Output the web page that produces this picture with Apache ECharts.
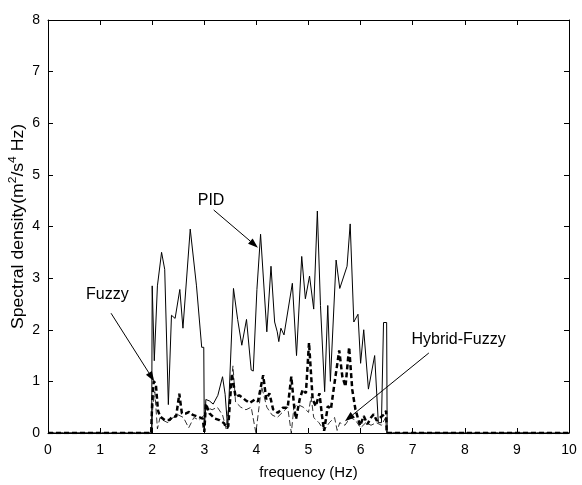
<!DOCTYPE html>
<html>
<head>
<meta charset="utf-8">
<script src="https://cdn.jsdelivr.net/npm/echarts@6/dist/echarts.min.js"></script>
<style>
  html, body { margin: 0; padding: 0; background: #fff; }
  #chart { width: 582px; height: 485px; }
</style>
</head>
<body>
<div id="chart"></div>
<script>
// Acceleration spectral density for three controllers
const xTicks = [0, 1, 2, 3, 4, 5, 6, 7, 8, 9, 10];
const yTicks = [0, 1, 2, 3, 4, 5, 6, 7, 8];

const pidFreq = [0, 1.99, 2.0, 2.04, 2.1, 2.18, 2.24, 2.31, 2.37, 2.44, 2.53, 2.59, 2.73, 2.85, 2.95, 2.99, 3.0, 3.03, 3.1, 3.17, 3.26, 3.35, 3.4, 3.45, 3.56, 3.64, 3.72, 3.81, 3.9, 3.94, 4.01, 4.08, 4.2, 4.28, 4.35, 4.4, 4.43, 4.47, 4.53, 4.69, 4.77, 4.87, 4.94, 5.02, 5.1, 5.17, 5.23, 5.31, 5.37, 5.42, 5.53, 5.6, 5.74, 5.8, 5.87, 5.95, 6.0, 6.06, 6.15, 6.27, 6.34, 6.4, 6.44, 6.5, 6.51, 10];
const pidPsd  = [0, 0, 2.85, 1.4, 2.85, 3.5, 3.17, 0.55, 2.28, 2.22, 2.78, 2.03, 3.95, 2.85, 1.66, 1.66, 0.02, 0.65, 0.62, 0.56, 0.73, 1.09, 0.75, 0.08, 2.8, 2.2, 1.7, 2.2, 1.22, 1.2, 2.78, 3.85, 1.96, 3.23, 2.15, 1.96, 1.77, 2.03, 1.9, 2.9, 1.5, 3.42, 2.6, 3.04, 2.4, 4.3, 2.47, 0.8, 2.47, 1.0, 3.35, 2.8, 3.23, 4.05, 2.15, 2.3, 1.35, 2.0, 0.85, 1.5, 0.2, 0.2, 2.14, 2.14, 0, 0];

const fuzzyFreq = [0, 1.98, 2.0, 2.03, 2.07, 2.11, 2.15, 2.24, 2.33, 2.39, 2.46, 2.52, 2.57, 2.65, 2.71, 2.78, 2.87, 2.97, 3.0, 3.03, 3.1, 3.2, 3.29, 3.38, 3.42, 3.46, 3.53, 3.6, 3.67, 3.8, 3.87, 3.97, 4.03, 4.13, 4.19, 4.25, 4.32, 4.41, 4.51, 4.6, 4.67, 4.73, 4.76, 4.83, 4.89, 4.95, 5.01, 5.08, 5.14, 5.21, 5.26, 5.3, 5.37, 5.43, 5.49, 5.59, 5.65, 5.71, 5.78, 5.84, 5.9, 5.99, 6.06, 6.13, 6.2, 6.25, 6.31, 6.38, 6.45, 6.49, 6.5, 10];
const fuzzyPsd  = [0, 0, 0.6, 1.0, 0.95, 0.44, 0.32, 0.25, 0.25, 0.32, 0.32, 0.76, 0.38, 0.38, 0.41, 0.35, 0.32, 0.28, 0.02, 0.57, 0.38, 0.28, 0.25, 0.19, 0.1, 0.13, 1.15, 0.7, 0.73, 0.63, 0.58, 0.65, 0.61, 1.12, 0.65, 0.77, 0.46, 0.39, 0.49, 0.49, 1.09, 0.46, 0.27, 0.65, 0.84, 0.77, 1.75, 0.65, 0.52, 0.77, 0.33, 0.04, 0.52, 0.46, 0.9, 1.6, 1.09, 0.9, 1.66, 0.84, 0.46, 0.14, 0.33, 0.17, 0.3, 0.36, 0.24, 0.3, 0.36, 0.43, 0, 0];

const hybridFreq = [0, 1.99, 2.01, 2.05, 2.1, 2.15, 2.2, 2.3, 2.4, 2.5, 2.6, 2.7, 2.8, 2.9, 3.0, 3.05, 3.15, 3.25, 3.35, 3.42, 3.55, 3.6, 3.7, 3.8, 3.9, 3.99, 4.05, 4.1, 4.2, 4.3, 4.4, 4.5, 4.6, 4.67, 4.72, 4.8, 4.9, 5.0, 5.05, 5.1, 5.2, 5.3, 5.4, 5.5, 5.55, 5.6, 5.7, 5.8, 5.9, 6.0, 6.1, 6.2, 6.3, 6.4, 6.48, 6.5, 10];
const hybridPsd  = [0, 0, 0.5, 0.8, 0.08, 0.3, 0.25, 0.2, 0.3, 0.35, 0.3, 0.1, 0.3, 0.25, 0.35, 0.5, 0.45, 0.5, 0.35, 0.08, 1.3, 0.6, 0.5, 0.45, 0.5, 0.0, 0.5, 0.9, 0.5, 0.35, 0.3, 0.4, 0.5, 0.0, 0.5, 0.55, 0.5, 0.4, 0.7, 0.3, 0.2, 0.05, 0.2, 0.3, 0.05, 0.2, 0.15, 0.3, 0.25, 0.1, 0.2, 0.15, 0.2, 0.15, 0.3, 0, 0];

// Callout labels: text anchor, arrow tail, arrow head (data units)
const callouts = [
  { text: 'PID',          at: [3.13, 4.50], from: [3.18, 4.32], to: [4.03, 3.59] },
  { text: 'Fuzzy',        at: [1.14, 2.68], from: [1.21, 2.32], to: [2.04, 1.00] },
  { text: 'Hybrid-Fuzzy', at: [7.88, 1.80], from: [7.31, 1.55], to: [5.70, 0.23] }
];

const pairs = (xs, ys) => xs.map((x, i) => [x, ys[i]]);
const FONT = 'Liberation Sans, Arial, sans-serif';

const chart = echarts.init(document.getElementById('chart'), null, { renderer: 'canvas' });

const tickStyle = { show: true, inside: true, length: 5, lineStyle: { color: '#000', width: 1 } };
const lineStyleAxis = { show: true, onZero: false, lineStyle: { color: '#000', width: 1 } };

chart.setOption({
  animation: false,
  backgroundColor: '#fff',
  grid: { left: 48, right: 13, top: 20, bottom: 47, containLabel: false },
  xAxis: [
    {
      type: 'value', min: 0, max: 10, interval: 1, position: 'bottom',
      axisLine: lineStyleAxis, axisTick: tickStyle, splitLine: { show: false },
      axisLabel: { color: '#000', fontFamily: FONT, fontSize: 14, margin: 10,
        formatter: v => xTicks.includes(v) ? String(v) : '' },
      name: 'frequency (Hz)', nameLocation: 'middle', nameGap: 32,
      nameTextStyle: { color: '#000', fontFamily: FONT, fontSize: 15 }
    },
    {
      type: 'value', min: 0, max: 10, interval: 1, position: 'top',
      axisLine: lineStyleAxis, axisTick: tickStyle, axisLabel: { show: false }, splitLine: { show: false }
    }
  ],
  yAxis: [
    {
      type: 'value', min: 0, max: 8, interval: 1, position: 'left',
      axisLine: lineStyleAxis, axisTick: tickStyle, splitLine: { show: false },
      axisLabel: { color: '#000', fontFamily: FONT, fontSize: 14, margin: 8,
        formatter: v => yTicks.includes(v) ? String(v) : '' }
    },
    {
      type: 'value', min: 0, max: 8, interval: 1, position: 'right',
      axisLine: lineStyleAxis, axisTick: tickStyle, axisLabel: { show: false }, splitLine: { show: false }
    }
  ],
  series: [
    {
      name: 'PID', type: 'line', data: pairs(pidFreq, pidPsd),
      symbol: 'none', z: 3,
      lineStyle: { color: '#000', width: 1 }
    },
    {
      name: 'Hybrid-Fuzzy', type: 'line', data: pairs(hybridFreq, hybridPsd),
      symbol: 'none', z: 4,
      lineStyle: { color: '#000', width: 0.8, type: [6, 3] }
    },
    {
      name: 'Fuzzy', type: 'line', data: pairs(fuzzyFreq, fuzzyPsd),
      symbol: 'none', z: 5,
      lineStyle: { color: '#000', width: 2.5, type: [5, 3] }
    }
  ]
});

// Callout text, arrows and the vertical axis title, placed from data units
const px = p => chart.convertToPixel({ gridIndex: 0 }, p);
const elements = [];
callouts.forEach(c => {
  const a = px(c.at), f = px(c.from), t = px(c.to);
  elements.push({
    type: 'text', x: a[0], y: a[1], z: 10,
    style: { text: c.text, fill: '#000', font: '16px ' + FONT, align: 'center', verticalAlign: 'middle' }
  });
  const dx = t[0] - f[0], dy = t[1] - f[1];
  const len = Math.hypot(dx, dy), ux = dx / len, uy = dy / len;
  const hl = 10, hw = 3.5;
  const bx = t[0] - ux * hl, by = t[1] - uy * hl;
  elements.push({
    type: 'line', z: 10,
    shape: { x1: f[0], y1: f[1], x2: bx, y2: by },
    style: { stroke: '#000', lineWidth: 1 }
  });
  elements.push({
    type: 'polygon', z: 10,
    shape: { points: [[t[0], t[1]], [bx - uy * hw, by + ux * hw], [bx + uy * hw, by - ux * hw]] },
    style: { fill: '#000' }
  });
});

const mid = px([0, 4]);
elements.push({
  type: 'text', x: 17, y: mid[1], rotation: Math.PI / 2, scaleX: 1.1, z: 10,
  style: {
    text: '{t|Spectral density(m}{s|2}{t|/s}{s|4}{t| Hz)}',
    align: 'center', verticalAlign: 'middle',
    rich: {
      t: { fill: '#000', font: '16px ' + FONT, lineHeight: 20, verticalAlign: 'bottom' },
      s: { fill: '#000', font: '11px ' + FONT, lineHeight: 20, verticalAlign: 'top' }
    }
  }
});
chart.setOption({ graphic: { elements } });
</script>
</body>
</html>
